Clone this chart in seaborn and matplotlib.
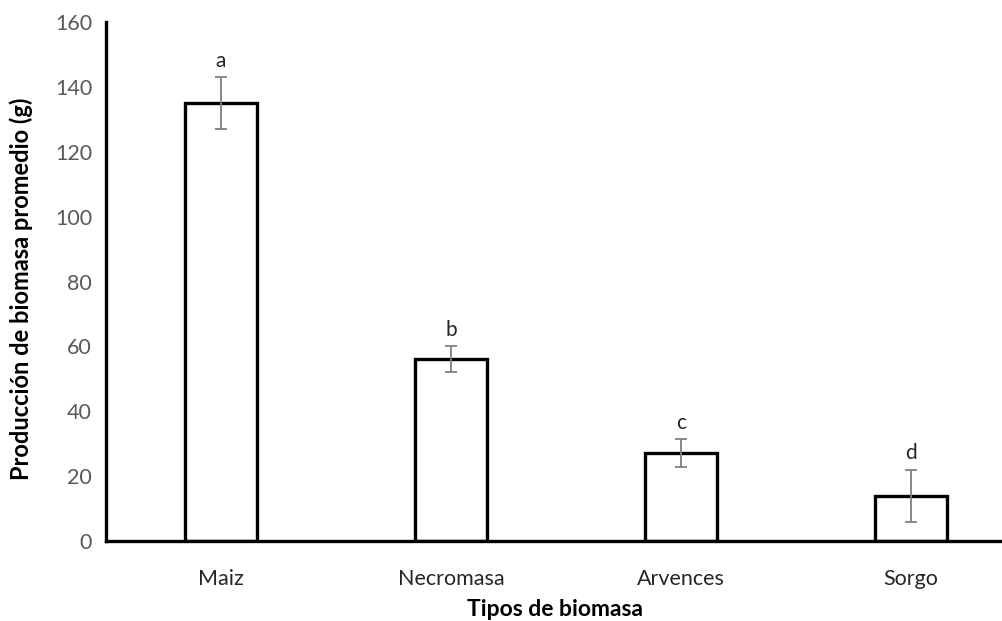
import matplotlib
matplotlib.use("Agg")
import matplotlib.pyplot as plt
import seaborn as sns
import pandas as pd

categories = ["Maiz", "Necromasa", "Arvences", "Sorgo"]
values = [135, 56, 27, 14]
errors = [8, 4, 4.3, 8]
letters = ["a", "b", "c", "d"]
yticks = [0, 20, 40, 60, 80, 100, 120, 140, 160]

sns.set_style("white")
plt.rcParams['font.family'] = ['Lato', 'DejaVu Sans']

df = pd.DataFrame({"cat": categories, "val": values})

fig = plt.figure(figsize=(10.03, 6.21), dpi=100)
ax = fig.add_axes([106/1003, 80/621, 920/1003, 519/621])

sns.barplot(data=df, x="cat", y="val", ax=ax, color="white", edgecolor="black",
            linewidth=2.4, width=0.31, errorbar=None)
ax.errorbar(range(len(categories)), values, yerr=errors, fmt="none",
            ecolor="#7f7f7f", elinewidth=1.3, capsize=4.5, capthick=1.3)
for i, (v, e, l) in enumerate(zip(values, errors, letters)):
    ax.text(i, v + e + 2, l, ha="center", va="bottom", fontsize=15, color="#262626")

ax.set_xlim(-0.5, 3.5)
ax.set_ylim(0, 160)
ax.set_yticks(yticks)
ax.tick_params(axis="both", length=0, labelsize=15.5, labelcolor="#595959", pad=10)
ax.tick_params(axis="x", pad=20, labelcolor="#262626")
for s in ["top", "right"]:
    ax.spines[s].set_visible(False)
for s in ["left", "bottom"]:
    ax.spines[s].set_linewidth(2.4)
    ax.spines[s].set_color("black")
ax.set_xlabel("")
ax.set_ylabel("")
fig.text(555/1003, 1 - 610/621, "Tipos de biomasa", fontsize=16.5, fontweight="bold",
         ha="center", va="center", color="black")
fig.text(21/1003, 1 - 289/621, "Producción de biomasa promedio (g)", fontsize=17,
         fontweight="bold", ha="center", va="center", rotation=90, color="black")
fig.savefig("out.png", dpi=100)
